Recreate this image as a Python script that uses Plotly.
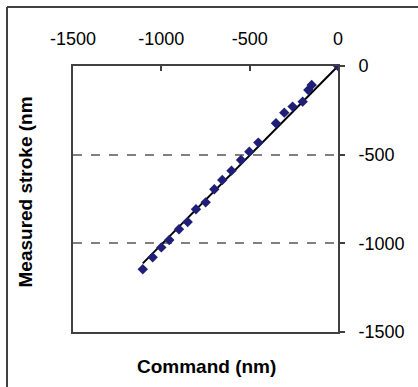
import plotly.graph_objects as go

# Data
command = [-1105, -1049, -1000, -955, -900, -851, -804, -749, -700, -655, -603,
           -549, -502, -451, -351, -304, -257, -200, -168, -149, 0]
stroke = [-1146, -1079, -1023, -981, -921, -880, -808, -769, -695, -643, -590,
          -530, -483, -432, -323, -263, -229, -201, -135, -107, 0]
fit_x = [-1105, 0]
fit_y = [-1113, 0]

x_ticks = [-1500, -1000, -500, 0]
y_ticks = [0, -500, -1000, -1500]

W, H = 418, 387
L, R, T, B = 73, 80, 66, 55
pw, ph = W - L - R, H - T - B

def px(xp):
    return (xp - L) / pw

def py(yp):
    return (H - B - yp) / ph

axis_col = "#404040"
font_fam = "Liberation Sans, Arial, sans-serif"

fig = go.Figure()
fig.add_trace(go.Scatter(x=fit_x, y=fit_y, mode="lines",
                         line=dict(color="#000000", width=2), hoverinfo="skip"))
fig.add_trace(go.Scatter(x=command, y=stroke, mode="markers",
                         marker=dict(symbol="diamond", size=8, color="#1F1F78")))

fig.update_layout(
    width=W, height=H, showlegend=False,
    margin=dict(l=L, r=R, t=T, b=B, pad=0),
    paper_bgcolor="white", plot_bgcolor="white",
    font=dict(family=font_fam, size=18, color="#000000"),
    xaxis=dict(side="top", range=[-1500, 0], tickvals=x_ticks,
               ticktext=[str(v) for v in x_ticks],
               ticks="inside", ticklen=5, tickwidth=1.5, tickcolor=axis_col,
               showline=True, linecolor=axis_col, linewidth=2, mirror=True,
               showgrid=False, zeroline=False, ticklabelstandoff=12),
    yaxis=dict(side="right", range=[-1500, 0], tickvals=y_ticks,
               ticktext=[str(v) for v in y_ticks],
               ticks="outside", ticklen=5, tickwidth=1.5, tickcolor=axis_col,
               showline=True, linecolor=axis_col, linewidth=2, mirror=True,
               showgrid=True, gridcolor="#808080", gridwidth=1.5, griddash="dash",
               zeroline=False, ticklabelstandoff=10),
)

fig.add_annotation(text="<b>Command (nm)</b>", xref="paper", yref="paper",
                   x=px(206), y=py(366), xanchor="center", yanchor="middle",
                   showarrow=False, font=dict(size=19, family=font_fam, color="#000000"))
fig.add_annotation(text="<b>Measured stroke (nm</b>", xref="paper", yref="paper",
                   x=px(25), y=py(290), xanchor="center", yanchor="bottom",
                   textangle=-90, showarrow=False,
                   font=dict(size=19, family=font_fam, color="#000000"))

# Outer frame (top and left edges visible)
fig.add_shape(type="line", xref="paper", yref="paper",
              x0=px(7), x1=px(W + 5), y0=py(7), y1=py(7),
              line=dict(color=axis_col, width=2))
fig.add_shape(type="line", xref="paper", yref="paper",
              x0=px(7), x1=px(7), y0=py(7), y1=py(H + 5),
              line=dict(color=axis_col, width=2))

fig.write_html("out.html")
